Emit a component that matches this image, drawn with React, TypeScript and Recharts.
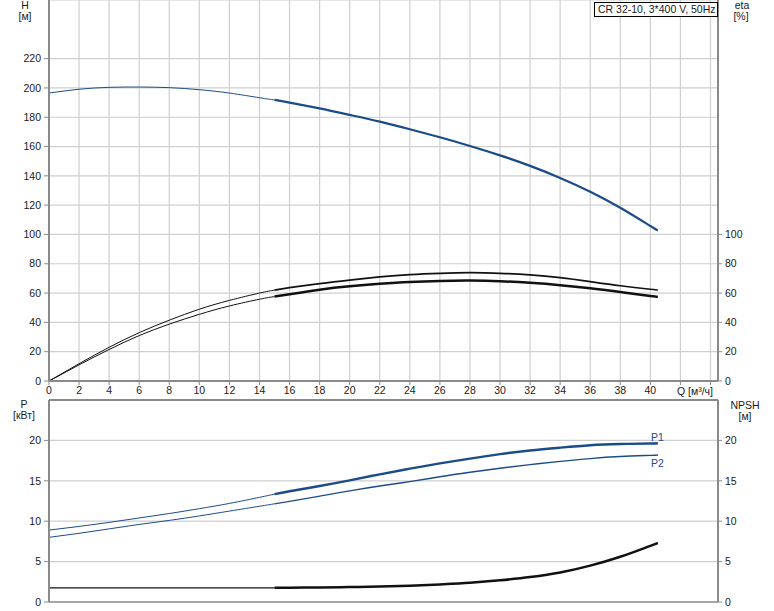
import React from 'react';
import { ComposedChart, Line, XAxis, YAxis, CartesianGrid, ReferenceLine } from 'recharts';

// Flow (Q, m³/h) sample points: thin segment and thick (operating) segment
const qThin = [0, 2, 4, 6, 8, 10, 12, 14, 15];
const qThick = [15, 16, 18, 20, 22, 24, 26, 28, 30, 32, 34, 36, 38, 40, 40.5];

// Head H [m]
const headThin = [196.5, 199.1, 200.4, 200.6, 200.2, 198.8, 196.5, 193.3, 191.8];
const headThick = [191.8, 190, 186, 181.6, 177, 171.8, 166.3, 160.4, 154, 146.8, 138.6, 129.2, 118.2, 105.8, 102.8];

// Efficiency eta [%] (upper / lower curves)
const etaUpperThin = [0, 11.8, 23, 33, 41.5, 49, 55, 60, 62];
const etaUpperThick = [62, 63.7, 66.5, 68.9, 71, 72.6, 73.5, 73.9, 73.5, 72.4, 70.5, 67.8, 65, 62.6, 62.1];
const etaLowerThin = [0, 11, 21.5, 31, 38.8, 45.5, 51.2, 55.8, 57.6];
const etaLowerThick = [57.6, 59.2, 62.3, 64.6, 66.3, 67.6, 68.3, 68.5, 68.1, 67, 65.4, 63.3, 60.7, 58, 57.5];

// Power P1 / P2 [kW]
const p1Thin = [8.9, 9.35, 9.85, 10.4, 10.95, 11.55, 12.2, 12.95, 13.35];
const p1Thick = [13.35, 13.7, 14.35, 15.05, 15.8, 16.5, 17.15, 17.75, 18.3, 18.75, 19.1, 19.4, 19.55, 19.62, 19.65];
const p2Thin = [8.0, 8.5, 9.05, 9.6, 10.1, 10.65, 11.25, 11.85, 12.15];
const p2Thick = [12.15, 12.45, 13.1, 13.75, 14.35, 14.9, 15.5, 16.05, 16.55, 17.0, 17.4, 17.75, 18.0, 18.15, 18.2];

// NPSH [m]
const npshThin = [1.75, 1.75, 1.75, 1.75, 1.75, 1.75, 1.75, 1.75, 1.75];
const npshThick = [1.75, 1.77, 1.8, 1.85, 1.92, 2.02, 2.18, 2.38, 2.68, 3.08, 3.65, 4.5, 5.6, 6.95, 7.3];

// Axis ticks
const qTicks = [0, 2, 4, 6, 8, 10, 12, 14, 16, 18, 20, 22, 24, 26, 28, 30, 32, 34, 36, 38, 40, 42, 44];
const hTicks = [0, 20, 40, 60, 80, 100, 120, 140, 160, 180, 200, 220];
const hGrid = [20, 40, 60, 80, 100, 120, 140, 160, 180, 200, 220, 240, 260];
const etaTicks = [0, 20, 40, 60, 80, 100];
const pTicks = [0, 5, 10, 15, 20];
const pGrid = [5, 10, 15, 20, 25];
const npshTicks = [0, 5, 10, 15, 20];

const title = 'CR 32-10, 3*400 V, 50Hz';

const build = (qs: number[], vs: number[]) => qs.map((q, i) => ({ q, v: vs[i] }));

const BLUE = '#1b4c8a';
const BLACK = '#111111';
const AXIS = '#8a8a8a';
const GRID = '#cfcfcf';
const FONT = '"Liberation Sans", Arial, sans-serif';
const tickStyle = { fontSize: 10.5, fill: '#1a1a1a', fontFamily: FONT };

export default function App() {
  return (
    <div style={{ position: 'absolute', left: 0, top: 0, width: 774, height: 611, background: '#fff', fontFamily: FONT }}>
      <div style={{ position: 'absolute', left: 0, top: 0 }}>
        <ComposedChart width={774} height={400} margin={{ top: 0, right: 0, bottom: 0, left: 0 }}>
          <CartesianGrid stroke={GRID} strokeWidth={1.2} yAxisId="h" horizontalValues={hGrid} verticalValues={qTicks.slice(1)} />
          <XAxis
            dataKey="q"
            type="number"
            domain={[0, 44.5]}
            allowDataOverflow
            ticks={qTicks}
            height={19}
            tickSize={4}
            tickMargin={2}
            tick={tickStyle}
            tickFormatter={(v: number) => (v <= 40 ? String(v) : '')}
            axisLine={{ stroke: AXIS, strokeWidth: 2 }}
            tickLine={{ stroke: AXIS }}
          />
          <YAxis
            yAxisId="h"
            type="number"
            domain={[0, 260]}
            ticks={hTicks}
            width={49}
            tickSize={5}
            tickMargin={3}
            tick={tickStyle}
            axisLine={{ stroke: AXIS, strokeWidth: 2 }}
            tickLine={{ stroke: AXIS }}
          />
          <YAxis
            yAxisId="eta"
            orientation="right"
            type="number"
            domain={[0, 260]}
            ticks={etaTicks}
            width={56}
            tickSize={4}
            tickMargin={3}
            tick={tickStyle}
            axisLine={{ stroke: AXIS, strokeWidth: 2 }}
            tickLine={{ stroke: AXIS }}
          />
          <Line yAxisId="h" data={build(qThin, headThin)} dataKey="v" type="natural" stroke={BLUE} strokeWidth={1} dot={false} isAnimationActive={false} />
          <Line yAxisId="h" data={build(qThick, headThick)} dataKey="v" type="natural" stroke={BLUE} strokeWidth={2.2} dot={false} isAnimationActive={false} />
          <Line yAxisId="eta" data={build(qThin, etaUpperThin)} dataKey="v" type="natural" stroke={BLACK} strokeWidth={1} dot={false} isAnimationActive={false} />
          <Line yAxisId="eta" data={build(qThick, etaUpperThick)} dataKey="v" type="natural" stroke={BLACK} strokeWidth={1.7} dot={false} isAnimationActive={false} />
          <Line yAxisId="eta" data={build(qThin, etaLowerThin)} dataKey="v" type="natural" stroke={BLACK} strokeWidth={1} dot={false} isAnimationActive={false} />
          <Line yAxisId="eta" data={build(qThick, etaLowerThick)} dataKey="v" type="natural" stroke={BLACK} strokeWidth={2.5} dot={false} isAnimationActive={false} />
        </ComposedChart>
      </div>
      <div style={{ position: 'absolute', left: 0, top: 399 }}>
        <ComposedChart width={774} height={212} margin={{ top: 1, right: 0, bottom: 0, left: 0 }}>
          <CartesianGrid stroke={GRID} strokeWidth={1.2} yAxisId="p" horizontalValues={pGrid} verticalValues={qTicks.slice(1)} />
          <XAxis
            dataKey="q"
            type="number"
            domain={[0, 44.5]}
            allowDataOverflow
            ticks={qTicks}
            height={9}
            tick={false}
            tickLine={false}
            axisLine={{ stroke: '#a8a8a8', strokeWidth: 2 }}
          />
          <YAxis
            yAxisId="p"
            type="number"
            domain={[0, 25]}
            ticks={pTicks}
            width={49}
            tickSize={5}
            tickMargin={3}
            tick={tickStyle}
            axisLine={{ stroke: AXIS, strokeWidth: 2 }}
            tickLine={{ stroke: AXIS }}
          />
          <YAxis
            yAxisId="npsh"
            orientation="right"
            type="number"
            domain={[0, 25]}
            ticks={npshTicks}
            width={56}
            tickSize={4}
            tickMargin={3}
            tick={tickStyle}
            axisLine={{ stroke: AXIS, strokeWidth: 2 }}
            tickLine={{ stroke: AXIS }}
          />
          <ReferenceLine yAxisId="p" y={25} stroke={AXIS} strokeWidth={2} />
          <Line yAxisId="p" data={build(qThin, p1Thin)} dataKey="v" type="natural" stroke={BLUE} strokeWidth={1} dot={false} isAnimationActive={false} />
          <Line yAxisId="p" data={build(qThick, p1Thick)} dataKey="v" type="natural" stroke={BLUE} strokeWidth={2.4} dot={false} isAnimationActive={false} />
          <Line yAxisId="p" data={build(qThin, p2Thin)} dataKey="v" type="natural" stroke={BLUE} strokeWidth={1} dot={false} isAnimationActive={false} />
          <Line yAxisId="p" data={build(qThick, p2Thick)} dataKey="v" type="natural" stroke={BLUE} strokeWidth={1.4} dot={false} isAnimationActive={false} />
          <Line yAxisId="npsh" data={build(qThin, npshThin)} dataKey="v" type="monotone" stroke={BLACK} strokeWidth={1.2} dot={false} isAnimationActive={false} />
          <Line yAxisId="npsh" data={build(qThick, npshThick)} dataKey="v" type="monotone" stroke={BLACK} strokeWidth={2.5} dot={false} isAnimationActive={false} />
        </ComposedChart>
      </div>
      <svg width={774} height={611} style={{ position: 'absolute', left: 0, top: 0, pointerEvents: 'none' }}>
        <g fontFamily={FONT} fontSize={10.5} fill="#1a1a1a">
          <text x={25} y={9} textAnchor="middle">H</text>
          <text x={25} y={20} textAnchor="middle">[м]</text>
          <text x={742} y={9} textAnchor="middle">eta</text>
          <text x={741} y={20} textAnchor="middle">[%]</text>
          <text x={695} y={395} textAnchor="middle">Q [м³/ч]</text>
          <text x={24} y={408} textAnchor="middle">P</text>
          <text x={24} y={419} textAnchor="middle">[кВт]</text>
          <text x={745} y={409} textAnchor="middle">NPSH</text>
          <text x={745} y={420} textAnchor="middle">[м]</text>
          <text x={651} y={441} fill={BLUE}>P1</text>
          <text x={651} y={467} fill={BLUE}>P2</text>
        </g>
        <rect x={594.5} y={2.5} width={123} height={14} fill="#fff" stroke="#000" strokeWidth={1} />
        <text x={598} y={13} fontFamily={FONT} fontSize={10.5} fill="#1a1a1a">{title}</text>
      </svg>
    </div>
  );
}
